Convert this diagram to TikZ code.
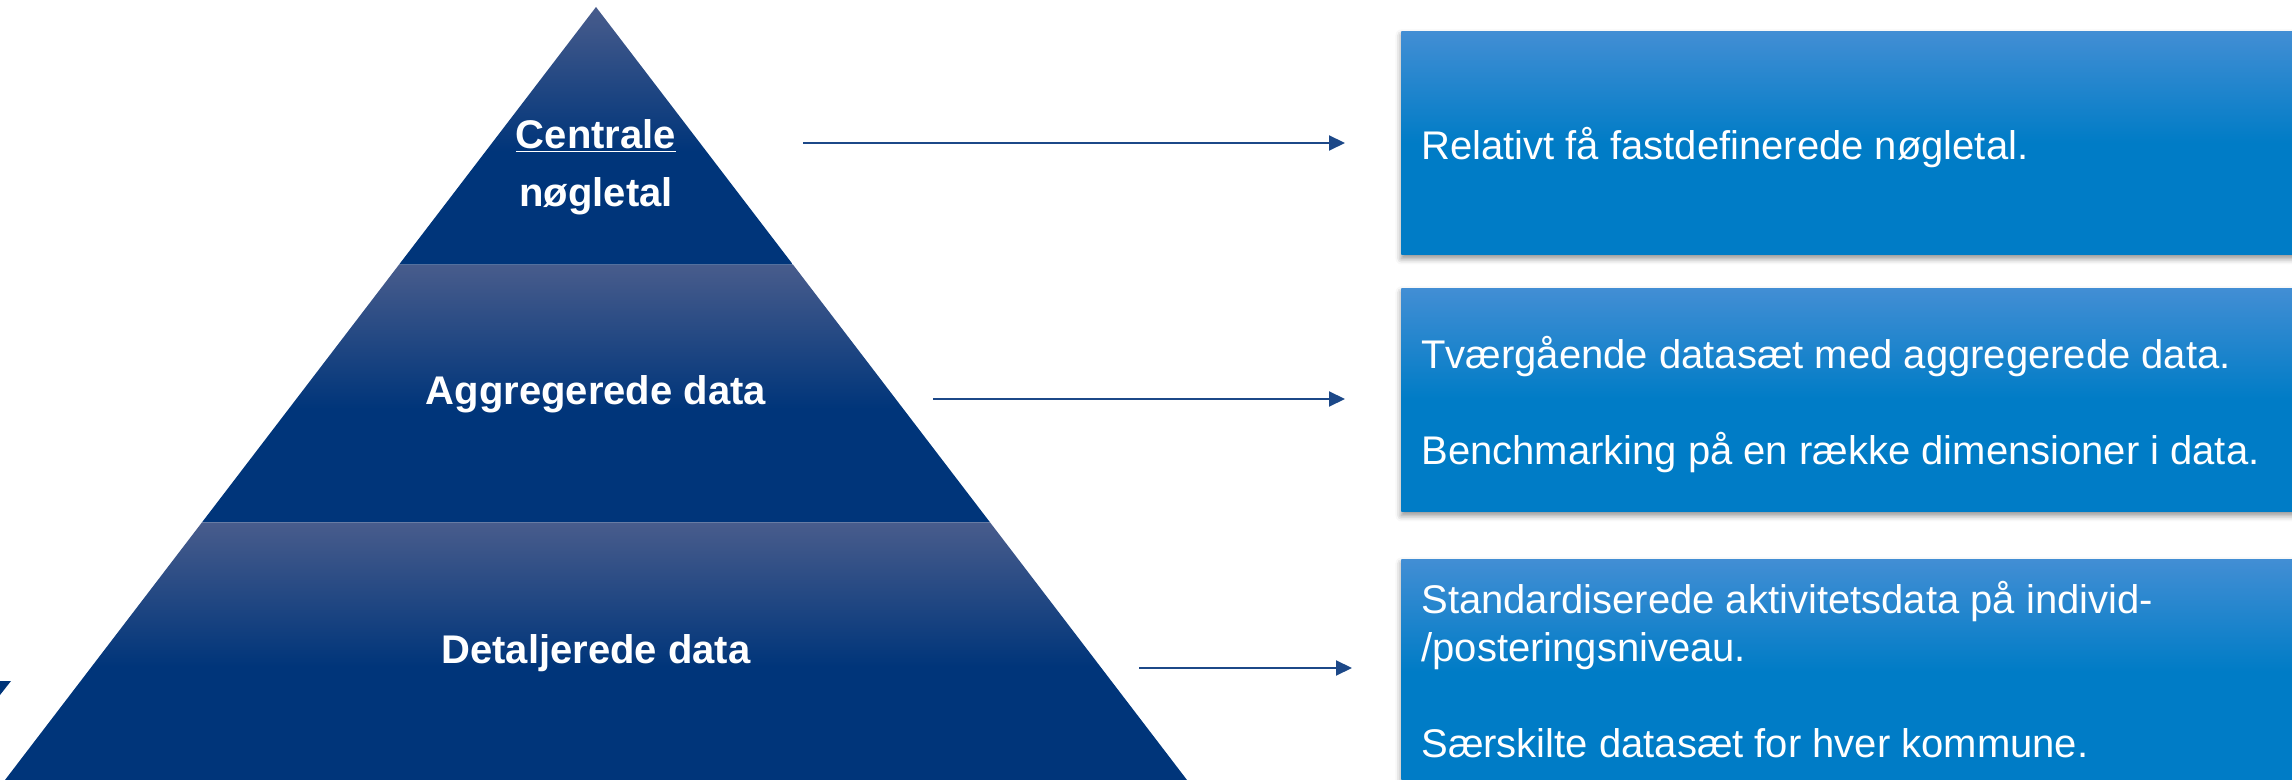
\documentclass[tikz,border=0pt]{standalone}
\usepackage{fontspec}
\setmainfont{Liberation Sans}
\usetikzlibrary{calc,arrows.meta,shadows.blur}

\definecolor{bandlight}{RGB}{72,92,140}
\definecolor{banddark}{RGB}{0,53,122}
\definecolor{boxlight}{RGB}{66,142,212}
\definecolor{boxdark}{RGB}{0,124,198}
\definecolor{arrowblue}{RGB}{28,72,136}

\pgfdeclareverticalshading{bandshade}{100bp}{color(0bp)=(banddark); color(47bp)=(banddark); color(75bp)=(bandlight); color(100bp)=(bandlight)}
\pgfdeclareverticalshading{boxshade}{100bp}{color(0bp)=(boxdark); color(50bp)=(boxdark); color(75bp)=(boxlight); color(100bp)=(boxlight)}

\tikzset{
  infobox/.style={shade, shading=boxshade, minimum width=450pt, minimum height=111.5pt, anchor=north west, inner sep=0pt,
    blur shadow={shadow xshift=0pt, shadow yshift=-2pt, shadow blur radius=3pt, shadow opacity=45}},
  infotext/.style={text=white, align=left, anchor=west, inner sep=0pt, font=\fontsize{20pt}{24pt}\selectfont},
  bandtext/.style={text=white, align=center, inner sep=0pt, font=\bfseries\fontsize{20pt}{29pt}\selectfont},
  link/.style={draw=arrowblue, line width=1pt, -{Triangle[length=8pt,width=7.5pt]}}
}

\begin{document}
\begin{tikzpicture}[x=0.5pt,y=-0.5pt]
\useasboundingbox (0,0) rectangle (2292,780);
\clip (0,0) rectangle (2292,780);

% pyramid
\coordinate (apex) at (596,7);
\coordinate (bl) at (5,780);
\coordinate (br) at (1187,780);
\foreach \t/\b in {0/0.3333,0.3333/0.6667,0.6667/1} {
\shade[shading=bandshade] ($(apex)!\t!(bl)$) -- ($(apex)!\t!(br)$) -- ($(apex)!\b!(br)$) -- ($(apex)!\b!(bl)$) -- cycle;}
\fill[banddark] (0,681) -- (11,681) -- (0,695) -- cycle;

\node[bandtext] (central) at (596,167) {\underline{Centrale}\\nøgletal};
\node[bandtext, anchor=base] (aggr) at (596,405) {Aggregerede data};
\node[bandtext, anchor=base] (detail) at (596,663) {Detaljerede data};

% boxes
\node[infobox] (box1) at (1401,31) {};
\node[infobox] (box2) at (1401,288) {};
\node[infobox] (box3) at (1401,559) {};

\node[infotext] (txt1) at ([xshift=10pt,yshift=-2.5pt]box1.west) {Relativt få fastdefinerede nøgletal.};
\node[infotext] (txt2) at ([xshift=10pt,yshift=-2.5pt]box2.west) {Tværgående datasæt med aggregerede data.\\[24pt]Benchmarking på en række dimensioner i data.};
\node[infotext] (txt3) at ([xshift=10pt,yshift=0.75pt]box3.west) {Standardiserede aktivitetsdata på individ-\\/posteringsniveau.\\[24pt]Særskilte datasæt for hver kommune.};

% arrows
\coordinate (from1) at (803,143);
\coordinate (to1) at (1345,143);
\coordinate (from2) at (933,399);
\coordinate (to2) at (1345,399);
\coordinate (from3) at (1139,668);
\coordinate (to3) at (1352,668);
\draw[link] (from1) -- (to1);
\draw[link] (from2) -- (to2);
\draw[link] (from3) -- (to3);

\end{tikzpicture}
\end{document}
